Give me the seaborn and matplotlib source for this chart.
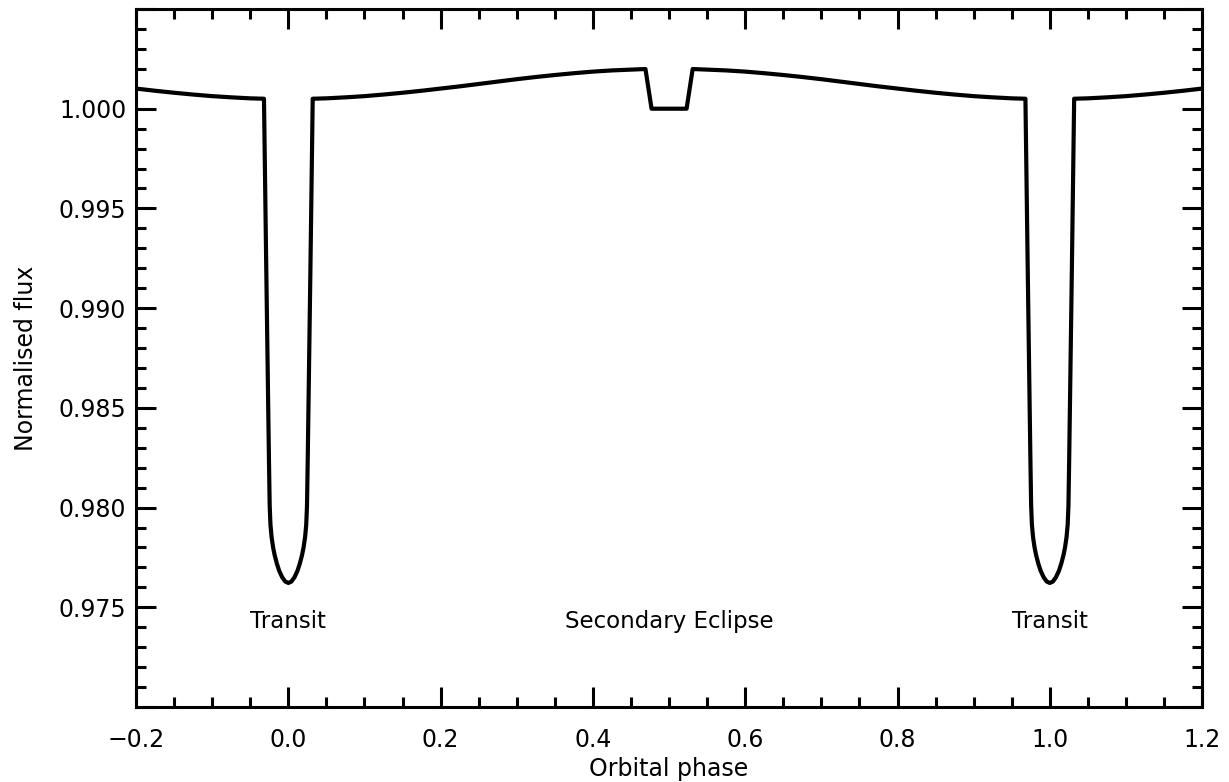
import numpy as np
import pandas as pd
import seaborn as sns
import matplotlib.pyplot as plt
from matplotlib.ticker import MultipleLocator, FuncFormatter

# Orbital phase and normalised flux
phase = [
    -0.200, -0.175, -0.150, -0.125, -0.100, -0.075, -0.050,
    -0.032, -0.029, -0.0255, -0.0245, -0.0235, -0.022, -0.020, -0.018, -0.015,
    -0.012, -0.008, -0.004,
    0.000,
    0.004, 0.008, 0.012, 0.015, 0.018, 0.020, 0.022, 0.0235, 0.0245, 0.0255,
    0.029, 0.032,
    0.050, 0.075, 0.100, 0.125, 0.150, 0.175, 0.200, 0.225, 0.250, 0.275,
    0.300, 0.325, 0.350, 0.375, 0.400, 0.425, 0.450,
    0.469, 0.477, 0.523, 0.531,
    0.550, 0.575, 0.600, 0.625, 0.650, 0.675, 0.700, 0.725, 0.750, 0.775,
    0.800, 0.825, 0.850, 0.875, 0.900, 0.925, 0.950,
    0.968, 0.971, 0.9745, 0.9755, 0.9765, 0.978, 0.980, 0.982, 0.985,
    0.988, 0.992, 0.996,
    1.000,
    1.004, 1.008, 1.012, 1.015, 1.018, 1.020, 1.022, 1.0235, 1.0245, 1.0255,
    1.029, 1.032,
    1.050, 1.075, 1.100, 1.125, 1.150, 1.175, 1.200,
]
flux = [
    1.00101, 1.00090, 1.00080, 1.00071, 1.00063, 1.00057, 1.00052,
    1.00050, 0.99200, 0.98250, 0.98010, 0.97915, 0.97852, 0.97800, 0.97762, 0.97718,
    0.97683, 0.97650, 0.97629,
    0.97622,
    0.97629, 0.97650, 0.97683, 0.97718, 0.97762, 0.97800, 0.97852, 0.97915, 0.98010, 0.98250,
    0.99200, 1.00050,
    1.00052, 1.00057, 1.00063, 1.00071, 1.00080, 1.00090, 1.00101, 1.00112, 1.00124, 1.00136,
    1.00148, 1.00159, 1.00169, 1.00178, 1.00186, 1.00192, 1.00196,
    1.00199, 1.00000, 1.00000, 1.00199,
    1.00196, 1.00192, 1.00186, 1.00178, 1.00169, 1.00159, 1.00148, 1.00136, 1.00124, 1.00112,
    1.00101, 1.00090, 1.00080, 1.00071, 1.00063, 1.00057, 1.00052,
    1.00050, 0.99200, 0.98250, 0.98010, 0.97915, 0.97852, 0.97800, 0.97762, 0.97718,
    0.97683, 0.97650, 0.97629,
    0.97622,
    0.97629, 0.97650, 0.97683, 0.97718, 0.97762, 0.97800, 0.97852, 0.97915, 0.98010, 0.98250,
    0.99200, 1.00050,
    1.00052, 1.00057, 1.00063, 1.00071, 1.00080, 1.00090, 1.00101,
]

label_text = ["Transit", "Secondary Eclipse", "Transit"]
label_phase = [0.0, 0.5, 1.0]
label_flux = [0.9743, 0.9743, 0.9743]

df = pd.DataFrame({"phase": phase, "flux": flux})

sns.set_style("ticks")
plt.rcParams["font.family"] = ["DejaVu Sans"]

fig = plt.figure(figsize=(12.29, 7.82), dpi=100)
ax = fig.add_axes([0.1107, 0.0959, 0.8674, 0.8926])

sns.lineplot(data=df, x="phase", y="flux", color="black", linewidth=3.0,
             estimator=None, sort=False, ax=ax)

for t, xp, yp in zip(label_text, label_phase, label_flux):
    ax.text(xp, yp, t, ha="center", va="center", fontsize=16.5, color="black")

ax.set_xlim(-0.2, 1.2)
ax.set_ylim(0.970, 1.005)
ax.xaxis.set_major_locator(MultipleLocator(0.2))
ax.xaxis.set_minor_locator(MultipleLocator(0.05))
ax.yaxis.set_major_locator(MultipleLocator(0.005))
ax.yaxis.set_minor_locator(MultipleLocator(0.001))


def xfmt(v, pos):
    return ("%.1f" % v).replace("-", "\u2212")


def yfmt(v, pos):
    if v < 0.9745 or v > 1.0005:
        return ""
    return "%.3f" % v


ax.xaxis.set_major_formatter(FuncFormatter(xfmt))
ax.yaxis.set_major_formatter(FuncFormatter(yfmt))

ax.tick_params(which="both", direction="in", top=True, right=True,
               width=2.2, colors="black", labelsize=17)
ax.tick_params(which="major", length=14.5)
ax.tick_params(which="minor", length=7.2)
ax.tick_params(axis="x", which="major", pad=15)
ax.tick_params(axis="y", which="major", pad=7)

for s in ax.spines.values():
    s.set_linewidth(2.2)
    s.set_color("black")

ax.set_xlabel("Orbital phase", fontsize=17, labelpad=4, color="black")
ax.set_ylabel("Normalised flux", fontsize=17, labelpad=15, color="black")

plt.savefig("out.png", dpi=100)
plt.close()
